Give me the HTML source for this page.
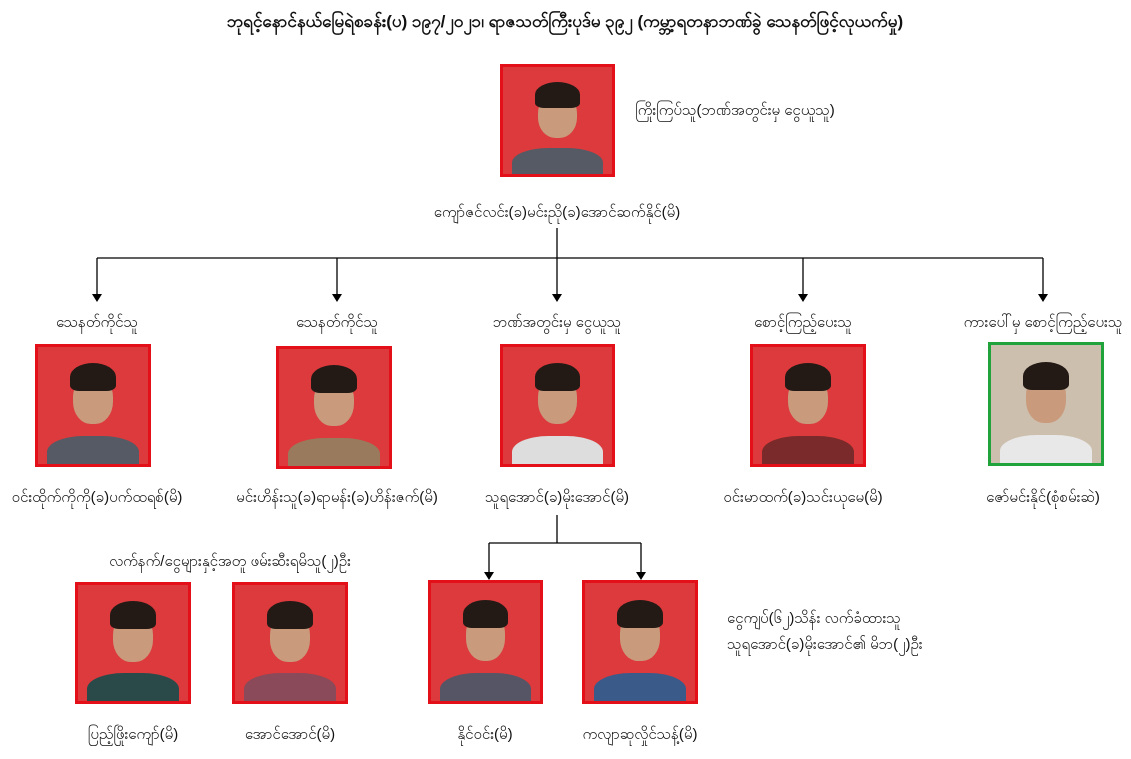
<!DOCTYPE html>
<html><head><meta charset="utf-8"><style>
body{margin:0;width:1131px;height:759px;background:#fff;position:relative;overflow:hidden;font-family:"Liberation Sans","Noto Sans CJK SC",sans-serif;color:#111}
.t{position:absolute;font-size:15px;font-weight:500;white-space:nowrap;transform:translateX(-50%)}
.p{position:absolute;box-sizing:border-box;border:3px solid #e3101a;background:#dc3a3c;overflow:hidden}
.p.g{border-color:#1fa33a;background:#cdbfae}
.h{position:absolute;left:50%;top:24%;width:36%;height:42%;margin-left:-18%;border-radius:45%;background:#c99a7c}
.hair{position:absolute;left:50%;top:14%;width:42%;height:24%;margin-left:-21%;border-radius:50% 50% 20% 20%;background:#231a16}
.b{position:absolute;left:8%;right:8%;bottom:-10%;height:34%;border-radius:40% 40% 0 0;background:#555a64}
svg{position:absolute;left:0;top:0}
</style></head><body>
<svg width="1131" height="759">
<g stroke="#000" stroke-width="1.3" fill="none">
<line x1="557" y1="228" x2="557" y2="258"/>
<line x1="97" y1="258" x2="1043" y2="258"/>
<line x1="97" y1="258" x2="97" y2="300"/><line x1="337" y1="258" x2="337" y2="300"/>
<line x1="557" y1="258" x2="557" y2="300"/><line x1="803" y1="258" x2="803" y2="300"/>
<line x1="1043" y1="258" x2="1043" y2="300"/>
<line x1="557" y1="515" x2="557" y2="543"/>
<line x1="489" y1="543" x2="641" y2="543"/>
<line x1="489" y1="543" x2="489" y2="578"/><line x1="641" y1="543" x2="641" y2="578"/>
</g>
<g fill="#000">
<path d="M92,294 L97,302 L102,294"/><path d="M332,294 L337,302 L342,294"/><path d="M552,294 L557,302 L562,294"/>
<path d="M798,294 L803,302 L808,294"/><path d="M1038,294 L1043,302 L1048,294"/>
<path d="M484,572 L489,580 L494,572"/><path d="M636,572 L641,580 L646,572"/>
</g>
</svg>
<div class="t" style="left:565px;top:11px;font-size:17px;font-weight:bold">ဘုရင့်နောင်နယ်မြေရဲစခန်း(ပ) ၁၉၇/၂၀၂၁၊ ရာဇသတ်ကြီးပုဒ်မ ၃၉၂ (ကမ္ဘာ့ရတနာဘဏ်ခွဲ သေနတ်ဖြင့်လုယက်မှု)</div>

<div class="p" style="left:500px;top:64px;width:115px;height:113px"><div class="b"></div><div class="h"></div><div class="hair"></div></div>
<div class="t" style="left:735px;top:101px">ကြိုးကြပ်သူ(ဘဏ်အတွင်းမှ ငွေယူသူ)</div>
<div class="t" style="left:557px;top:203px">ကျော်ဇင်လင်း(ခ)မင်းညို(ခ)အောင်ဆက်နိုင်(မိ)</div>

<div class="t" style="left:97px;top:313px">သေနတ်ကိုင်သူ</div>
<div class="t" style="left:337px;top:313px">သေနတ်ကိုင်သူ</div>
<div class="t" style="left:557px;top:313px">ဘဏ်အတွင်းမှ ငွေယူသူ</div>
<div class="t" style="left:803px;top:313px">စောင့်ကြည့်ပေးသူ</div>
<div class="t" style="left:1043px;top:313px">ကားပေါ်မှ စောင့်ကြည့်ပေးသူ</div>

<div class="p" style="left:35px;top:344px;width:116px;height:123px"><div class="b"></div><div class="h"></div><div class="hair"></div></div>
<div class="p" style="left:276px;top:346px;width:116px;height:123px"><div class="b" style="background:#9a7a5c"></div><div class="h"></div><div class="hair"></div></div>
<div class="p" style="left:500px;top:344px;width:115px;height:123px"><div class="b" style="background:#ddd"></div><div class="h"></div><div class="hair"></div></div>
<div class="p" style="left:750px;top:344px;width:116px;height:123px"><div class="b" style="background:#7a2a2a"></div><div class="h"></div><div class="hair"></div></div>
<div class="p g" style="left:988px;top:342px;width:116px;height:124px"><div class="b" style="background:#e8e8e8"></div><div class="h"></div><div class="hair"></div></div>

<div class="t" style="left:97px;top:488px">ဝင်းထိုက်ကိုကို(ခ)ပက်ထရစ်(မိ)</div>
<div class="t" style="left:337px;top:488px">မင်းဟိန်းသူ(ခ)ရာမန်း(ခ)ဟိန်းဇက်(မိ)</div>
<div class="t" style="left:557px;top:488px">သူရအောင်(ခ)မိုးအောင်(မိ)</div>
<div class="t" style="left:803px;top:488px">ဝင်းမာထက်(ခ)သင်းယုမေ(မိ)</div>
<div class="t" style="left:1043px;top:488px">ဇော်မင်းနိုင်(စုံစမ်းဆဲ)</div>

<div class="t" style="left:230px;top:552px">လက်နက်/ငွေများနှင့်အတူ ဖမ်းဆီးရမိသူ(၂)ဦး</div>

<div class="p" style="left:75px;top:582px;width:116px;height:122px"><div class="b" style="background:#2a4a4a"></div><div class="h"></div><div class="hair"></div></div>
<div class="p" style="left:232px;top:582px;width:116px;height:122px"><div class="b" style="background:#8a4a5a"></div><div class="h"></div><div class="hair"></div></div>
<div class="p" style="left:428px;top:580px;width:115px;height:124px"><div class="b" style="background:#556"></div><div class="h"></div><div class="hair"></div></div>
<div class="p" style="left:582px;top:580px;width:116px;height:124px"><div class="b" style="background:#3a5a8a"></div><div class="h"></div><div class="hair"></div></div>

<div class="t" style="left:727px;top:609px;transform:none">ငွေကျပ်(၆၂)သိန်း လက်ခံထားသူ</div>
<div class="t" style="left:727px;top:635px;transform:none">သူရအောင်(ခ)မိုးအောင်၏ မိဘ(၂)ဦး</div>

<div class="t" style="left:133px;top:725px">ပြည့်ဖြိုးကျော်(မိ)</div>
<div class="t" style="left:290px;top:725px">အောင်အောင်(မိ)</div>
<div class="t" style="left:485px;top:725px">နိုင်ဝင်း(မိ)</div>
<div class="t" style="left:640px;top:725px">ကလျာဆုလှိုင်သန့်(မိ)</div>
</body></html>
